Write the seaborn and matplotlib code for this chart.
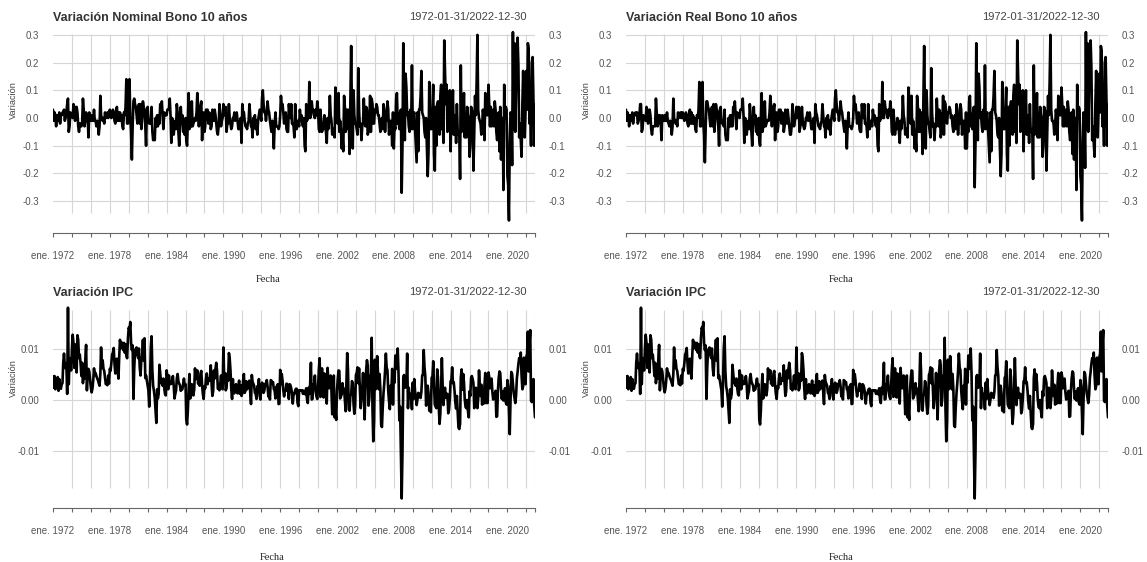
import numpy as np
import pandas as pd
import matplotlib
matplotlib.use("Agg")
import matplotlib.pyplot as plt
import seaborn as sns

sns.set_theme(style="white")
plt.rcParams["font.family"] = ["Liberation Sans", "DejaVu Sans"]

# ---------------- data (monthly, 1972-01 .. 2022-12) ----------------
fecha_inicio = "1972-01-31"
n_meses = 612
rango_texto = "1972-01-31/2022-12-30"

# nominal 10y bond yield monthly variation, in percent (one row per year)
bono_nominal_pct = [
    3, -1, 2, 1, -3, 1, 0, -1, 2, -2, 1, 1,
    2, 2, 3, -1, 0, 2, 5, 7, -5, -3, 2, 1,
    1, 0, 5, 4, -1, 2, 4, 2, -3, -5, -2, -2,
    -3, -2, 7, 3, -3, -1, 2, 1, 0, -7, 2, -1,
    -1, 1, -1, -1, 3, -1, -1, -3, -1, -2, -6, -3,
    8, 1, 0, -1, 0, -2, 2, 0, 1, 2, 0, 2,
    3, 1, 0, 1, 3, 2, -1, -2, 2, 4, -1, 2,
    -1, 2, -1, 1, -3, -4, 2, 1, 4, 14, -2, -2,
    3, 14, 0, -5, -15, -3, 6, 7, 5, 4, 1, -2,
    3, 5, -2, 5, -4, 0, 6, 4, 3, -3, -10, 3,
    4, -1, -2, -1, -2, 4, -5, -8, -6, -8, 0, -3,
    1, -3, 1, -2, 5, 2, 6, 1, -4, 2, 1, 1,
    1, 3, 3, 3, 7, 1, -9, 0, -3, -6, -3, -1,
    -4, 5, 2, -5, -10, -3, 4, -2, 1, -5, -4, -6,
    0, -8, -10, 0, 9, -4, -3, -3, 6, -3, -2, -1,
    0, -1, 2, 9, 4, -3, 4, 4, 6, -8, -1, 2,
    -5, -3, 3, 3, 3, -2, 2, 1, -4, -3, 3, 2,
    -1, 3, 1, -2, -5, -6, -3, 5, 1, -3, -1, 0,
    5, 1, 1, 4, -5, -2, -2, 5, 0, -2, -4, -3,
    0, 0, 2, -1, 1, 2, -1, -4, -4, -1, 0, -9,
    5, 2, 2, -1, -3, -3, -4, -2, -1, 5, 1, -3,
    -3, -7, 0, 0, 1, -4, -1, -6, -1, 1, 3, 1,
    -1, 7, 10, 5, 2, 2, -1, 2, 6, 3, 2, -1,
    -3, -5, -1, -4, -11, -3, 2, -3, -3, -3, -4, -3,
    1, 8, 4, 5, 2, -2, 1, 2, -4, -5, -5, 5,
    2, 0, 5, -2, -2, -3, -7, 5, -4, -4, -1, -2,
    -3, 3, 0, 1, -2, -3, 0, -10, -12, 5, -1, 2,
    0, 13, 0, 1, 6, 3, 3, 1, 0, 3, 1, 6,
    3, -4, -5, 3, -1, -5, -2, -4, 1, -1, -5, -9,
    0, -4, -1, 8, 1, -1, -6, -4, -4, -7, 11, 6,
    -1, -2, 9, -5, -1, -4, -11, -7, -12, 8, 4, -5,
    3, -4, 3, 0, -13, 5, 26, 1, -11, 10, 1, -2,
    -2, -4, -6, 18, 3, -3, -2, -8, -3, -2, 7, 0,
    -3, 4, 3, -6, -5, -2, 8, -5, 7, 5, -2, -2,
    3, 2, 5, 4, 1, 1, -2, -5, -3, 0, -4, 5,
    3, -5, 2, -1, 6, 3, -6, -3, -1, -2, -10, 2,
    -11, -3, -4, 7, 9, -2, 0, -4, 2, 3, -27, -10,
    27, 5, -8, 16, 11, 1, 2, -3, -5, 3, -4, 19,
    -4, 1, 2, -4, -10, -16, 2, -12, 3, 3, 8, 17,
    2, 1, 0, -5, -7, 0, -10, -21, -13, 13, -3, -4,
    -4, 4, 12, -13, -19, 4, -10, 5, 6, 5, -6, 8,
    12, -4, -1, -9, 28, 16, 5, 12, -5, -3, 7, 10,
    -12, 2, 1, 10, -6, 1, 1, -9, 5, -5, -6, -5,
    -22, 19, -5, 5, 3, 9, -7, 1, -7, 4, 1, 0,
    -14, -10, 4, 3, 1, -19, -5, 8, 1, 13, 30, 3,
    0, -1, -2, -6, -3, 3, 0, -8, 9, 2, 1, 1,
    12, 5, -3, 4, -3, -1, 3, -3, 6, 3, -5, -8,
    -2, 2, -12, 4, -15, -5, 0, -26, 12, 0, 4, 3,
    -21, -24, -37, -9, 2, 1, -17, 31, -4, 27, -5, 11,
    17, 29, 19, -7, -2, -8, -14, 5, 17, 2, -7, 3,
    17, 3, 27, 25, -2, 4, -10, 20, 22, 7, -10, 5,
]

# real 10y bond variation, in percent
bono_real_pct = [
    3, -1, 2, 1, -3, 1, 0, -1, 2, -2, 1, 1,
    2, 1, 2, -2, -1, 1, 5, 5, -5, -4, 1, 0,
    0, -1, 4, 3, -2, 1, 3, 1, -4, -6, -3, -3,
    -3, -3, 7, 2, -3, -2, 1, 1, -1, -8, 1, -1,
    -1, 1, -1, -1, 2, -1, -2, -3, -1, -2, -6, -3,
    7, 0, -1, -2, -1, -3, 2, 0, 1, 2, 0, 2,
    2, 0, -1, 0, 2, 1, -2, -3, 1, 3, -2, 2,
    -2, 1, -2, 0, -4, -5, 1, 0, 3, 13, -3, -3,
    2, 13, -2, -6, -16, -4, 6, 6, 4, 3, 0, -3,
    2, 4, -3, 5, -5, -1, 5, 3, 2, -3, -10, 3,
    4, -1, -2, -1, -3, 3, -6, -8, -6, -8, 0, -3,
    1, -3, 1, -3, 4, 2, 6, 1, -4, 2, 1, 1,
    0, 3, 3, 3, 7, 1, -9, 0, -3, -6, -3, -1,
    -4, 5, 1, -5, -10, -3, 4, -2, 1, -5, -4, -6,
    0, -8, -10, 0, 9, -5, -3, -3, 6, -3, -2, -1,
    -1, -1, 2, 8, 4, -3, 4, 3, 5, -8, -1, 2,
    -5, -3, 3, 2, 3, -2, 2, 1, -5, -3, 3, 2,
    -2, 3, 0, -3, -6, -6, -3, 5, 1, -3, -1, 0,
    4, 1, 0, 4, -5, -3, -2, 4, -1, -3, -4, -3,
    0, 0, 2, -1, 1, 2, -1, -4, -4, -1, 0, -9,
    5, 2, 1, -1, -3, -3, -4, -2, -1, 5, 1, -3,
    -3, -7, 0, 0, 1, -4, -1, -6, -1, 1, 3, 1,
    -1, 7, 10, 5, 2, 2, -1, 2, 6, 3, 2, -1,
    -3, -5, -1, -4, -11, -3, 2, -3, -3, -3, -4, -3,
    0, 8, 3, 5, 2, -2, 1, 2, -4, -5, -5, 5,
    2, 0, 5, -2, -2, -3, -7, 5, -4, -4, -1, -2,
    -3, 3, 0, 1, -2, -3, 0, -10, -12, 5, -1, 2,
    0, 13, 0, 0, 6, 3, 3, 1, 0, 3, 1, 6,
    3, -5, -6, 3, -1, -6, -2, -4, 0, -1, -5, -9,
    -1, -4, -1, 8, 1, -1, -6, -4, -4, -7, 11, 6,
    -1, -2, 8, -6, -1, -4, -11, -7, -12, 8, 4, -5,
    3, -5, 2, 0, -13, 5, 26, 1, -11, 10, 1, -2,
    -2, -5, -7, 18, 2, -3, -2, -8, -3, -3, 7, 0,
    -3, 3, 2, -7, -5, -2, 8, -6, 6, 5, -1, -2,
    2, 2, 4, 3, 0, 1, -3, -5, -3, 1, -4, 5,
    3, -6, 1, -2, 5, 3, -6, -3, -1, -2, -11, 2,
    -11, -3, -5, 6, 8, -3, -1, -4, 2, 4, -25, -9,
    27, 5, -8, 16, 11, 0, 2, -3, -5, 3, -4, 19,
    -4, 1, 2, -4, -10, -16, 2, -12, 3, 3, 8, 17,
    2, 1, -1, -6, -7, 0, -10, -21, -13, 13, -3, -4,
    -4, 4, 11, -13, -19, 4, -10, 4, 6, 5, -6, 8,
    12, -5, -1, -9, 28, 16, 5, 12, -5, -3, 7, 10,
    -12, 2, 0, 10, -6, 1, 1, -9, 5, -5, -5, -4,
    -22, 19, -6, 5, 2, 9, -7, 1, -7, 4, 1, 0,
    -14, -10, 4, 3, 1, -19, -5, 8, 1, 13, 30, 3,
    -1, -1, -2, -6, -3, 3, 0, -8, 8, 2, 1, 1,
    11, 5, -3, 4, -3, -1, 3, -3, 6, 3, -5, -8,
    -2, 2, -13, 3, -15, -5, 0, -26, 12, 0, 4, 3,
    -21, -24, -37, -8, 2, 0, -18, 31, -4, 27, -5, 11,
    17, 28, 18, -8, -3, -9, -14, 5, 17, 1, -7, 3,
    16, 2, 26, 24, -3, 3, -10, 20, 22, 7, -10, 5,
]

# CPI monthly variation, in percent
ipc_pct = [
    0.46, 0.24, 0.47, 0.21, 0.28, 0.24, 0.45, 0.18, 0.41, 0.27, 0.22, 0.31,
    0.33, 0.72, 0.91, 0.68, 0.62, 0.71, 0.12, 1.81, 0.31, 0.82, 0.69, 0.58,
    1.02, 1.28, 1.12, 0.63, 1.09, 1.01, 0.54, 1.27, 1.18, 0.82, 0.89, 0.71,
    0.47, 0.73, 0.33, 0.51, 0.42, 0.78, 1.08, 0.19, 0.52, 0.61, 0.56, 0.41,
    0.24, 0.15, 0.22, 0.38, 0.62, 0.49, 0.53, 0.47, 0.42, 0.39, 0.33, 0.28,
    0.52, 1.03, 0.63, 0.78, 0.61, 0.57, 0.43, 0.31, 0.34, 0.29, 0.48, 0.32,
    0.61, 0.57, 0.72, 0.89, 0.93, 1.02, 0.71, 0.52, 0.74, 0.81, 0.58, 0.42,
    0.88, 1.18, 1.02, 1.13, 1.08, 0.98, 1.12, 0.93, 1.09, 0.87, 0.82, 1.21,
    1.42, 1.38, 1.53, 1.12, 0.98, 1.07, 0.02, 0.63, 0.97, 1.01, 1.03, 0.88,
    0.82, 1.01, 0.63, 0.48, 0.79, 0.86, 1.18, 0.77, 1.21, 0.43, 0.48, 0.38,
    0.28, 0.19, -0.13, 0.33, 1.02, 1.25, 0.57, 0.27, 0.18, 0.04, -0.21, -0.45,
    0.21, 0.03, 0.12, 0.69, 0.52, 0.33, 0.41, 0.28, 0.42, 0.24, 0.12, 0.09,
    0.58, 0.47, 0.21, 0.48, 0.33, 0.31, 0.32, 0.38, 0.47, 0.29, 0.03, 0.12,
    0.19, 0.42, 0.51, 0.37, 0.32, 0.29, 0.18, 0.22, 0.21, 0.31, 0.42, 0.28,
    0.31, -0.38, -0.48, -0.21, 0.22, 0.51, 0.03, 0.18, 0.31, 0.17, 0.09, 0.21,
    0.62, 0.41, 0.48, 0.58, 0.32, 0.41, 0.28, 0.52, 0.57, 0.29, 0.12, 0.02,
    0.27, 0.23, 0.43, 0.52, 0.31, 0.42, 0.38, 0.41, 0.68, 0.32, 0.08, 0.17,
    0.58, 0.42, 0.61, 0.73, 0.57, 0.22, 0.24, 0.19, 0.31, 0.48, 0.26, 0.21,
    1.03, 0.47, 0.52, 0.19, 0.23, 0.52, 0.38, 0.92, 0.82, 0.58, 0.22, 0.02,
    0.41, 0.17, 0.13, 0.18, 0.31, 0.22, 0.13, 0.28, 0.38, 0.12, 0.29, 0.08,
    0.14, 0.38, 0.51, 0.14, 0.18, 0.37, 0.21, 0.28, 0.27, 0.38, 0.14, -0.08,
    0.49, 0.36, 0.32, 0.28, 0.14, 0.12, 0.02, 0.27, 0.19, 0.41, 0.08, 0.01,
    0.27, 0.34, 0.32, 0.14, 0.19, 0.32, 0.28, 0.39, 0.27, 0.07, 0.13, 0.01,
    0.39, 0.38, 0.33, 0.35, 0.21, 0.19, 0.03, 0.26, 0.19, 0.31, -0.08, -0.07,
    0.59, 0.31, 0.51, 0.38, 0.19, 0.07, 0.19, 0.18, 0.32, 0.31, 0.19, 0.02,
    0.31, 0.29, 0.23, 0.13, -0.07, 0.12, 0.12, 0.19, 0.22, 0.22, -0.06, -0.12,
    0.19, 0.18, 0.19, 0.18, 0.19, 0.12, 0.18, 0.17, 0.11, 0.23, 0.01, -0.06,
    0.24, 0.12, 0.31, 0.73, 0.01, 0.02, 0.31, 0.28, 0.48, 0.18, 0.07, 0.02,
    0.24, 0.59, 0.82, 0.06, 0.12, 0.62, 0.29, 0.05, 0.52, 0.17, 0.08, -0.07,
    0.63, 0.41, 0.23, 0.41, 0.48, 0.19, -0.28, 0.01, 0.48, -0.34, -0.18, -0.39,
    0.18, 0.41, 0.58, 0.57, 0.03, 0.07, 0.11, 0.33, 0.16, 0.22, 0.01, -0.22,
    0.41, 0.92, 0.59, -0.19, -0.21, 0.09, 0.11, 0.37, 0.32, -0.08, -0.27, -0.11,
    0.49, 0.53, 0.64, 0.33, 0.62, 0.21, -0.16, 0.07, 0.21, 0.53, 0.06, -0.38,
    0.21, 0.58, 0.78, 0.68, -0.11, 0.04, 0.46, 0.51, 1.22, -0.19, -0.81, -0.41,
    0.79, 0.21, 0.57, 0.86, 0.51, 0.21, 0.51, 0.21, -0.49, -0.53, -0.15, 0.14,
    0.34, 0.57, 0.91, 0.64, 0.58, 0.18, -0.02, -0.18, 0.28, 0.18, 0.61, -0.09,
    0.49, 0.34, 0.87, 0.61, 0.84, 1.01, 0.53, -0.40, -0.13, -1.01, -1.93, -1.02,
    0.43, 0.49, 0.24, 0.25, 0.28, 0.91, -0.16, 0.24, 0.06, 0.12, 0.03, -0.18,
    0.34, 0.02, 0.41, 0.17, 0.06, -0.10, 0.01, 0.14, 0.06, 0.12, 0.04, 0.17,
    0.48, 0.49, 0.98, 0.64, 0.47, -0.11, 0.04, 0.28, 0.14, -0.21, -0.09, -0.24,
    0.44, 0.44, 0.76, 0.30, -0.09, -0.13, -0.16, 0.60, 0.45, -0.13, -0.47, -0.27,
    0.30, 0.82, 0.26, -0.10, 0.18, 0.24, 0.04, 0.12, 0.12, -0.26, -0.20, 0.03,
    0.37, 0.37, 0.64, 0.33, 0.35, 0.19, -0.04, -0.17, 0.08, -0.25, -0.54, -0.57,
    -0.47, 0.43, 0.60, 0.20, 0.51, 0.35, 0.01, -0.14, -0.16, 0.00, -0.21, -0.34,
    0.17, 0.08, 0.43, 0.47, 0.41, 0.33, -0.16, 0.09, 0.24, 0.12, -0.16, 0.03,
    0.58, 0.31, 0.08, 0.30, -0.09, 0.09, -0.07, 0.30, 0.53, -0.06, 0.00, -0.06,
    0.54, 0.45, 0.23, 0.40, 0.42, 0.16, 0.01, 0.06, 0.12, 0.18, -0.33, -0.32,
    0.19, 0.42, 0.56, 0.53, 0.21, 0.02, 0.17, -0.01, 0.08, 0.23, -0.05, -0.09,
    0.39, 0.27, -0.22, -0.67, 0.00, 0.55, 0.51, 0.32, 0.14, 0.04, -0.06, 0.09,
    0.43, 0.55, 0.71, 0.82, 0.80, 0.93, 0.48, 0.21, 0.27, 0.83, 0.49, 0.31,
    0.84, 0.91, 1.34, 0.56, 1.10, 1.37, -0.01, -0.04, 0.22, 0.41, -0.10, -0.34,
]

titulos = ["Variación Nominal Bono 10 años", "Variación Real Bono 10 años",
           "Variación IPC", "Variación IPC"]
bono_ticks = [0.3, 0.2, 0.1, 0.0, -0.1, -0.2, -0.3]
bono_labels = ["0.3", "0.2", "0.1", "0.0", "-0.1", "-0.2", "-0.3"]
ipc_ticks = [0.01, 0.0, -0.01]
ipc_labels = ["0.01", "0.00", "-0.01"]
anios_ticks = list(range(1972, 2023, 2))
anios_etiqueta = list(range(1972, 2021, 6))

# ---------------- figure ----------------
W, H = 1147, 562
fig = plt.figure(figsize=(W / 100, H / 100), dpi=100)
fig.patch.set_facecolor("white")

fechas = pd.date_range(fecha_inicio, periods=n_meses, freq="ME")
series = [np.array(bono_nominal_pct) / 100, np.array(bono_real_pct) / 100,
          np.array(ipc_pct) / 100, np.array(ipc_pct) / 100]

grid_c = "#d6d6d6"
lab_c = "#555555"

def fx(x):
    return x / W

def fy(y):
    return 1 - y / H

tick_dates = [pd.Timestamp(f"{a}-01-31") for a in anios_ticks] + [fechas[-1]]
tick_labels = [f"ene. {a}" if a in anios_etiqueta else "" for a in anios_ticks] + [""]

paneles = [
    dict(col=0, row=0, ticks=bono_ticks, labels=bono_labels),
    dict(col=1, row=0, ticks=bono_ticks, labels=bono_labels),
    dict(col=0, row=1, ticks=ipc_ticks, labels=ipc_labels),
    dict(col=1, row=1, ticks=ipc_ticks, labels=ipc_labels),
]

for i, p in enumerate(paneles):
    ox = 573 * p["col"]
    if p["row"] == 0:
        top, bot, zero_y, ppu = 28, 233, 118.0, 277.0
        vtop, vbot = 34, 213
        title_y = 18
        ylab_y = 100
        fecha_y = 279
    else:
        top, bot, zero_y, ppu = 303, 508, 400.0, 5100.0
        vtop, vbot = 310, 488
        title_y = 293
        ylab_y = 378
        fecha_y = 557
    left, right = ox + 53, ox + 535
    ax = fig.add_axes([fx(left), fy(bot), (right - left) / W, (bot - top) / H])
    ax.set_facecolor("white")
    ylo = (zero_y - bot) / ppu
    yhi = (zero_y - top) / ppu
    ax.set_ylim(ylo, yhi)
    ax.set_xlim(fechas[0], fechas[-1])

    for t in p["ticks"]:
        ax.axhline(t, color=grid_c, lw=0.8, zorder=0)
    ax.vlines(tick_dates[1:], (zero_y - vbot) / ppu, (zero_y - vtop) / ppu,
              color=grid_c, lw=0.8, zorder=0)

    df = pd.DataFrame({"fecha": fechas, "valor": series[i]})
    sns.lineplot(data=df, x="fecha", y="valor", ax=ax, color="black",
                 lw=1.9, estimator=None, zorder=3)

    ax.set_xlabel("")
    ax.set_ylabel("")
    for s in ["top", "left", "right"]:
        ax.spines[s].set_visible(False)
    ax.spines["bottom"].set_color("#666666")
    ax.spines["bottom"].set_linewidth(0.8)

    ax.set_xticks(tick_dates)
    ax.set_xticklabels(tick_labels)
    ax.tick_params(axis="x", direction="out", length=3, width=0.8,
                   colors="#666666", labelcolor=lab_c, labelsize=7, pad=10,
                   bottom=True)
    ax.set_yticks(p["ticks"])
    ax.set_yticklabels(p["labels"])
    ax.tick_params(axis="y", length=0, labelsize=7, labelcolor=lab_c, pad=10,
                   left=False, right=False, labelleft=True, labelright=True)
    ax.grid(False)

    fig.text(fx(ox + 53), fy(title_y), titulos[i], ha="left", va="center",
             fontsize=9, fontweight="bold", color="#333333")
    fig.text(fx(ox + 527), fy(title_y - 1), rango_texto, ha="right", va="center",
             fontsize=8, color="#444444")
    fig.text(fx(ox + 13), fy(ylab_y), "Variación", rotation=90, ha="center",
             va="center", fontsize=6.6, color="#444444")
    fig.text(fx(ox + 268 + (4 if p["row"] == 1 and p["col"] == 0 else 0)), fy(fecha_y),
             "Fecha", ha="center", va="center", fontsize=7.5,
             family=["Liberation Serif", "DejaVu Serif"], color="#222222")

fig.savefig("out.png", dpi=100, facecolor="white")
